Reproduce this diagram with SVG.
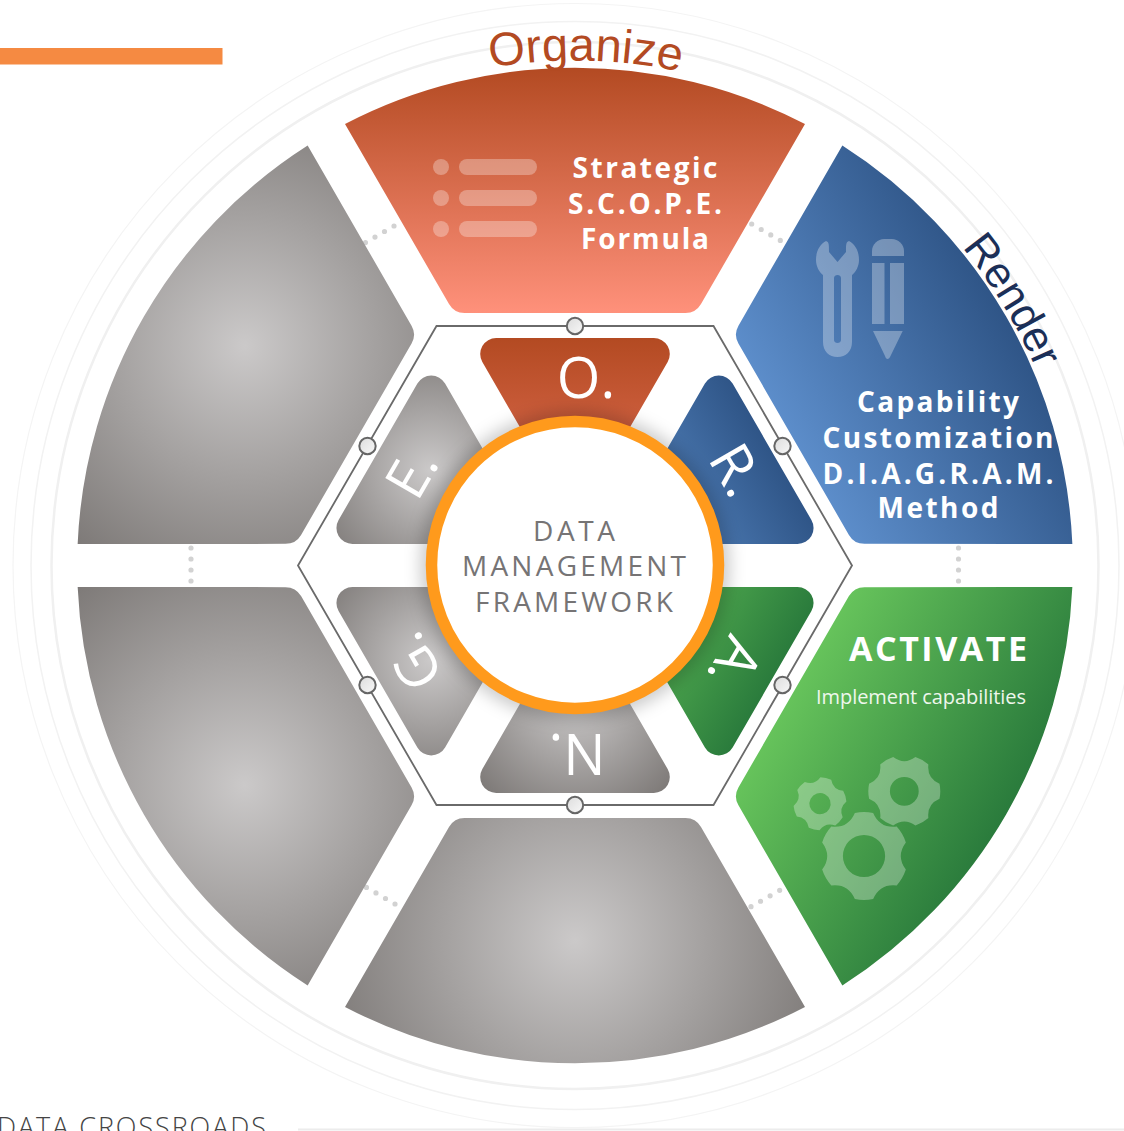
<svg xmlns="http://www.w3.org/2000/svg" width="1124" height="1131" viewBox="0 0 1124 1131">
<style>
text{font-family:"Open Sans","Noto Sans","Liberation Sans",sans-serif}
.ring{fill:none}
.dots{fill:none;stroke:#d2d2d2;stroke-width:5.2;stroke-linecap:round;stroke-dasharray:0 11}
.hex{fill:none;stroke:#6a6a6a;stroke-width:1.8}
.pin{fill:url(#pinG);stroke:#666;stroke-width:2}
.icon{fill:#fff;fill-opacity:.3}
.h{fill:#fff;font-weight:700;text-anchor:middle;font-size:28px}
.mid{fill:#767475;font-size:28px;font-weight:400;text-anchor:middle}
.let{fill:#fff;font-size:56px;font-weight:400;text-anchor:middle}
.arc{font-family:"Liberation Sans",Arial,sans-serif}
</style>
<defs>
<path id="outer" d="M-230,-441.5A498,498 0 0 1 230,-441.5L126,-261.5A18,18 0 0 1 110.500,-252.5L-110.500,-252.5A18,18 0 0 1 -126,-261.5Z"/>
<path id="inner" d="M-78.8,-227.5L78.8,-227.5A16,16 0 0 1 92.65,-203.5L0,-43L-92.65,-203.5A16,16 0 0 1 -78.8,-227.5Z"/>
<linearGradient id="rO" gradientUnits="userSpaceOnUse" x1="0" y1="-498" x2="0" y2="-252"><stop offset="0" stop-color="#b34a22"/><stop offset="1" stop-color="#ff917b"/></linearGradient>
<linearGradient id="bO" gradientUnits="userSpaceOnUse" x1="0" y1="-498" x2="0" y2="-252"><stop offset="0" stop-color="#2f5587"/><stop offset="1" stop-color="#5c8dca"/></linearGradient>
<linearGradient id="gO" gradientUnits="userSpaceOnUse" x1="0" y1="-498" x2="0" y2="-252"><stop offset="0" stop-color="#2a7b3c"/><stop offset="1" stop-color="#66c35b"/></linearGradient>
<radialGradient id="kN" gradientUnits="userSpaceOnUse" cx="0" cy="-375" r="265"><stop offset="0" stop-color="#cbc9c9"/><stop offset="1" stop-color="#7c7876"/></radialGradient>
<radialGradient id="kG" gradientUnits="userSpaceOnUse" cx="-25" cy="-396" r="265"><stop offset="0" stop-color="#cbc9c9"/><stop offset="1" stop-color="#7c7876"/></radialGradient>
<radialGradient id="kE" gradientUnits="userSpaceOnUse" cx="25" cy="-396" r="265"><stop offset="0" stop-color="#cbc9c9"/><stop offset="1" stop-color="#7c7876"/></radialGradient>
<linearGradient id="rI" gradientUnits="userSpaceOnUse" x1="0" y1="-228" x2="0" y2="-43"><stop offset="0" stop-color="#b34a22"/><stop offset="1" stop-color="#e8735a"/></linearGradient>
<linearGradient id="bI" gradientUnits="userSpaceOnUse" x1="0" y1="-228" x2="0" y2="-60"><stop offset="0" stop-color="#2f5587"/><stop offset="1" stop-color="#5b8dca"/></linearGradient>
<linearGradient id="gI" gradientUnits="userSpaceOnUse" x1="0" y1="-228" x2="0" y2="-60"><stop offset="0" stop-color="#2a7b3c"/><stop offset="1" stop-color="#62c058"/></linearGradient>
<radialGradient id="kIN" gradientUnits="userSpaceOnUse" cx="0" cy="-135" r="125"><stop offset="0" stop-color="#cbc9c9"/><stop offset="1" stop-color="#7f7b79"/></radialGradient>
<radialGradient id="kIG" gradientUnits="userSpaceOnUse" cx="-10" cy="-173" r="125"><stop offset="0" stop-color="#cbc9c9"/><stop offset="1" stop-color="#7f7b79"/></radialGradient>
<radialGradient id="kIE" gradientUnits="userSpaceOnUse" cx="10" cy="-173" r="125"><stop offset="0" stop-color="#cbc9c9"/><stop offset="1" stop-color="#7f7b79"/></radialGradient>
<linearGradient id="pinG" x1="0" y1="0" x2="1" y2="1"><stop offset="0" stop-color="#dcdcdc"/><stop offset="1" stop-color="#f8f8f8"/></linearGradient>
<filter id="soft" x="-20%" y="-20%" width="140%" height="140%"><feGaussianBlur stdDeviation="8"/></filter>
<path id="gearA" fill-rule="evenodd" d="M.978,-.208A1,1 0 0 1 .978,.208Q.624,.36 .669,.743A1,1 0 0 1 .309,.951Q0,.72 -.309,.951A1,1 0 0 1 -.669,.743Q-.624,.36 -.978,.208A1,1 0 0 1 -.978,-.208Q-.624,-.36 -.669,-.743A1,1 0 0 1 -.309,-.951Q0,-.72 .309,-.951A1,1 0 0 1 .669,-.743Q.624,-.36 .978,-.208ZM.48,0A.48,.48 0 1 0 -.48,0A.48,.48 0 1 0 .48,0Z"/>
<path id="gearB" fill-rule="evenodd" d="M.978,-.208A1,1 0 0 1 .978,.208Q.624,.36 .669,.743A1,1 0 0 1 .309,.951Q0,.72 -.309,.951A1,1 0 0 1 -.669,.743Q-.624,.36 -.978,.208A1,1 0 0 1 -.978,-.208Q-.624,-.36 -.669,-.743A1,1 0 0 1 -.309,-.951Q0,-.72 .309,-.951A1,1 0 0 1 .669,-.743Q.624,-.36 .978,-.208ZM.4,0A.4,.4 0 1 0 -.4,0A.4,.4 0 1 0 .4,0Z"/>
<path id="arcTop" d="M322.5,128.2A505,505 0 0 1 827.5,128.2"/>
<path id="arcRight" d="M825.500,131.600A501,501 0 0 1 1076,565.5"/>
</defs>
<rect width="1124" height="1131" fill="#fff"/>
<g id="rings" class="ring">
<circle cx="575" cy="565.5" r="562" stroke="#f4f4f4" stroke-width="1.2"/>
<circle cx="575" cy="565.5" r="544" stroke="#f2f2f2" stroke-width="1.5"/>
<circle cx="575" cy="565.5" r="523.500" stroke="#f0f0f0" stroke-width="2.5"/>
</g>
<rect id="accent-bar" x="0" y="48" width="222.5" height="16.5" fill="#f58a42"/>
<g id="connectors">
<path class="dots" d="M191,548V584"/>
<path class="dots" d="M958.5,548V584"/>
<path class="dots" d="M751.7,224L783,242"/>
<path class="dots" d="M394,226L363,244"/>
<path class="dots" d="M751,906.7L782,889"/>
<path class="dots" d="M395,904L364,886"/>
<path class="hex" d="M436.5,326H713.5L852,565.5L713.5,805H436.5L298,565.5Z"/>
</g>
<g id="segment-organize" transform="translate(575 565.5)"><use href="#outer" fill="url(#rO)"/></g>
<g id="segment-render" transform="translate(575 565.5) rotate(60)"><use href="#outer" fill="url(#bO)"/></g>
<g id="segment-activate" transform="translate(575 565.5) rotate(120)"><use href="#outer" fill="url(#gO)"/></g>
<g id="segment-n" transform="translate(575 565.5) rotate(180)"><use href="#outer" fill="url(#kN)"/></g>
<g id="segment-g" transform="translate(575 565.5) rotate(240)"><use href="#outer" fill="url(#kG)"/></g>
<g id="segment-e" transform="translate(575 565.5) rotate(300)"><use href="#outer" fill="url(#kE)"/></g>
<g id="letter-o" transform="translate(575 565.5)"><use href="#inner" fill="url(#rI)"/><text class="let" x="11" y="-168">O.</text></g>
<g id="letter-r" transform="translate(575 565.5) rotate(60)"><use href="#inner" fill="url(#bI)"/><text class="let" x="-2" y="-168">R.</text></g>
<g id="letter-a" transform="translate(575 565.5) rotate(120)"><use href="#inner" fill="url(#gI)"/><text class="let" x="5" y="-168">A.</text></g>
<g id="letter-n" transform="translate(575 565.5) rotate(180)"><use href="#inner" fill="url(#kIN)"/><text class="let" x="-2" y="-168">N.</text></g>
<g id="letter-g" transform="translate(575 565.5) rotate(240)"><use href="#inner" fill="url(#kIG)"/><text class="let" x="-3" y="-168">G.</text></g>
<g id="letter-e" transform="translate(575 565.5) rotate(300)"><use href="#inner" fill="url(#kIE)"/><text class="let" x="-1.500" y="-168">E.</text></g>
<g id="pins">
<circle class="pin" cx="575" cy="326" r="8.2"/><circle class="pin" cx="782.5" cy="446" r="8.2"/><circle class="pin" cx="782.5" cy="685" r="8.2"/><circle class="pin" cx="575" cy="805" r="8.2"/><circle class="pin" cx="367.5" cy="685" r="8.2"/><circle class="pin" cx="367.5" cy="446" r="8.2"/>
</g>
<g id="hub">
<circle cx="575" cy="565.5" r="155" fill="#000" fill-opacity=".2" filter="url(#soft)"/>
<circle cx="575" cy="565" r="143.5" fill="#fff" stroke="#ff9a1c" stroke-width="11.5"/>
<text class="mid" x="574" y="541" textLength="82">DATA</text>
<text class="mid" x="574" y="576" textLength="224">MANAGEMENT</text>
<text class="mid" x="574" y="612" textLength="198">FRAMEWORK</text>
</g>
<g id="organize-content">
<circle class="icon" cx="441" cy="167" r="8"/><circle class="icon" cx="441" cy="198" r="8"/><circle class="icon" cx="441" cy="229" r="8"/>
<rect class="icon" x="459" y="159" width="78" height="16" rx="8"/><rect class="icon" x="459" y="190" width="78" height="16" rx="8"/><rect class="icon" x="459" y="221" width="78" height="16" rx="8"/>
<text class="h" x="645" y="178" textLength="145">Strategic</text>
<text class="h" x="645" y="214" textLength="154">S.C.O.P.E.</text>
<text class="h" x="645" y="249" textLength="128">Formula</text>
</g>
<g id="render-content">
<path class="icon" fill-rule="evenodd" d="M826,241C819,245 816,252 816,260C816,266 819,272 823,275V342C823,351 829,357 837.500,357C846,357 852,351 852,342V275C856,272 859,266 859,260C859,252 856,245 849,241C846,242 846,244 846,252L837.500,262L829,252C829,244 829,242 826,241ZM834,278V340C834,344 841,344 841,340V278C841,274 834,274 834,278Z"/>
<path class="icon" d="M872,256V251C872,244 878,239 884,239H892C898,239 904,244 904,251V256Z"/>
<rect class="icon" x="872" y="263" width="12.500" height="61"/><rect class="icon" x="890" y="263" width="14" height="61"/>
<path class="icon" d="M873,331H902.700L890.500,356C889,360 886,360 885,356Z"/>
<text class="h" x="938" y="412" textLength="162">Capability</text>
<text class="h" x="938" y="448" textLength="231">Customization</text>
<text class="h" x="938" y="484" textLength="231">D.I.A.G.R.A.M.</text>
<text class="h" x="938" y="518" textLength="121">Method</text>
</g>
<g id="activate-content">
<text x="938" y="661" fill="#fff" font-size="34" font-weight="700" text-anchor="middle" textLength="178">ACTIVATE</text>
<text x="921" y="704" fill="#eef7ec" font-size="20" text-anchor="middle" textLength="210">Implement capabilities</text>
<use class="icon" href="#gearA" transform="translate(864 856) rotate(90) scale(44)"/>
<use class="icon" href="#gearB" transform="translate(904.300 791.300) scale(36)"/>
<use class="icon" href="#gearB" transform="translate(820 803.700) rotate(-17) scale(26.500)"/>
</g>
<g id="labels">
<text class="arc" font-size="47" fill="#b34a22" text-anchor="middle"><textPath href="#arcTop" startOffset="275">Organize</textPath></text>
<text class="arc" font-size="43.500" fill="#1b2f57"><textPath href="#arcRight" startOffset="180">Render</textPath></text>
</g>
<g id="footer">
<text x="-3" y="1136.500" font-size="27" fill="#444" font-weight="300" textLength="269">DATA CROSSROADS</text>
<rect x="298" y="1128.500" width="826" height="2" fill="#ececec"/>
</g>
</svg>
